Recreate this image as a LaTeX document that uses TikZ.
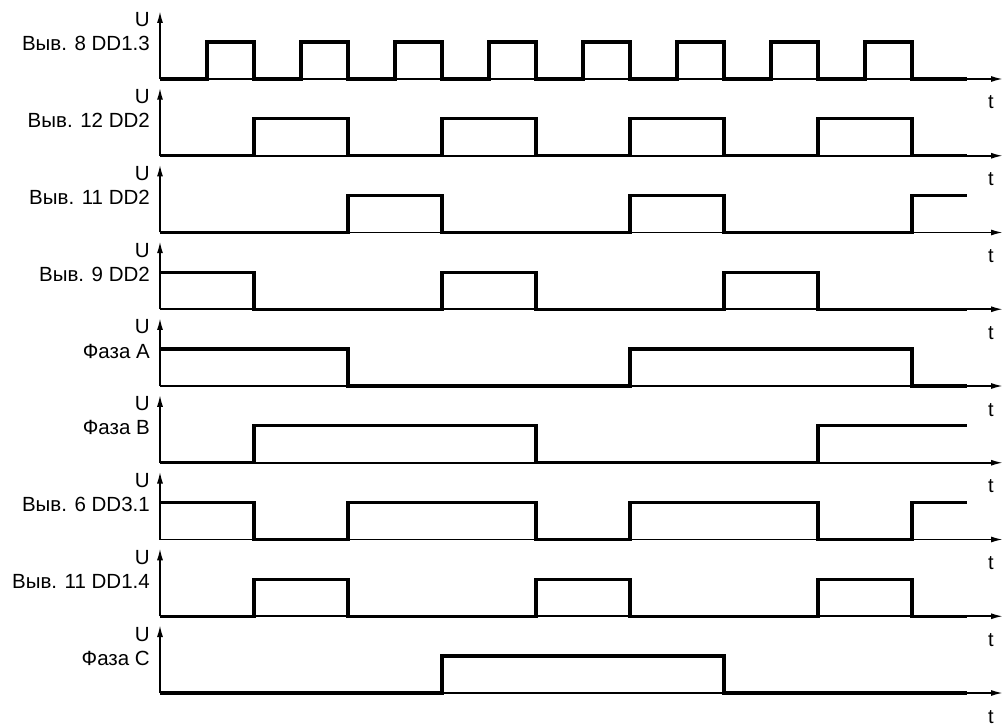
\documentclass[tikz,border=0pt]{standalone}
\usepackage{fontspec}
\setmainfont{Liberation Sans}
\usetikzlibrary{arrows.meta}

\begin{document}
\begin{tikzpicture}[x=1pt,y=1pt,>={Latex[length=12pt,width=6pt]}]
        \tikzset{axis/.style={line width=1.6pt,->},
        sig/.style={line width=3.1pt,line join=miter},
        lab/.style={anchor=base east,inner sep=0pt,font=\fontsize{20.5}{23}\selectfont},
        tlab/.style={anchor=base,inner sep=0pt,font=\fontsize{20}{22}\selectfont},
        wave/.style={shift={(o#1)},x=47pt,y=37pt}
        }
        \useasboundingbox (0,0) rectangle (1004,-727);

%% axes and labels of the nine rows
        \foreach \r/\txt in {1/{Выв. 8 DD1.3},2/{Выв. 12 DD2},3/{Выв. 11 DD2},
                4/{Выв. 9 DD2},5/{Фаза A},6/{Фаза B},7/{Выв. 6 DD3.1},
                8/{Выв. 11 DD1.4},9/{Фаза C}}{
            \coordinate (o\r) at (160,{-79-76.75*(\r-1)});
            \coordinate (ytop\r) at ([yshift=68pt]o\r);
            \coordinate (xend\r) at ([xshift=843pt]o\r);
            \draw[axis] (o\r) -- (ytop\r);
            \draw[axis] (o\r) -- (xend\r);
            \node [lab] (u\r) at ([xshift=-10pt,yshift=52pt]o\r) {U};
            \node [lab] (lab\r) at ([xshift=-10pt,yshift=28pt]o\r) {\txt};
            \node [tlab] (t\r) at ([xshift=831pt,yshift=-30pt]o\r) {t};
        }

%% waveforms
        \draw[sig,wave=1] (0,0) \foreach \k in {1,...,16}{ -| (\k,{mod(\k,2)}) } -- (17.17,0);
        \draw[sig,wave=2] (0,0) -| (2,1) -| (4,0) -| (6,1) -| (8,0) -| (10,1) -| (12,0) -| (14,1) -| (16,0) -- (17.17,0);
        \draw[sig,wave=3] (0,0) -| (4,1) -| (6,0) -| (10,1) -| (12,0) -| (16,1) -- (17.17,1);
        \draw[sig,wave=4] (0,1) -| (2,0) -| (6,1) -| (8,0) -| (12,1) -| (14,0) -- (17.17,0);
        \draw[sig,wave=5] (0,1) -| (4,0) -| (10,1) -| (16,0) -- (17.17,0);
        \draw[sig,wave=6] (0,0) -| (2,1) -| (8,0) -| (14,1) -- (17.17,1);
        \draw[sig,wave=7] (0,1) -| (2,0) -| (4,1) -| (8,0) -| (10,1) -| (14,0) -| (16,1) -- (17.17,1);
        \draw[sig,wave=8] (0,0) -| (2,1) -| (4,0) -| (8,1) -| (10,0) -| (14,1) -| (16,0) -- (17.17,0);
        \draw[sig,wave=9] (0,0) -| (6,1) -| (12,0) -- (17.17,0);
\end{tikzpicture}
\end{document}
